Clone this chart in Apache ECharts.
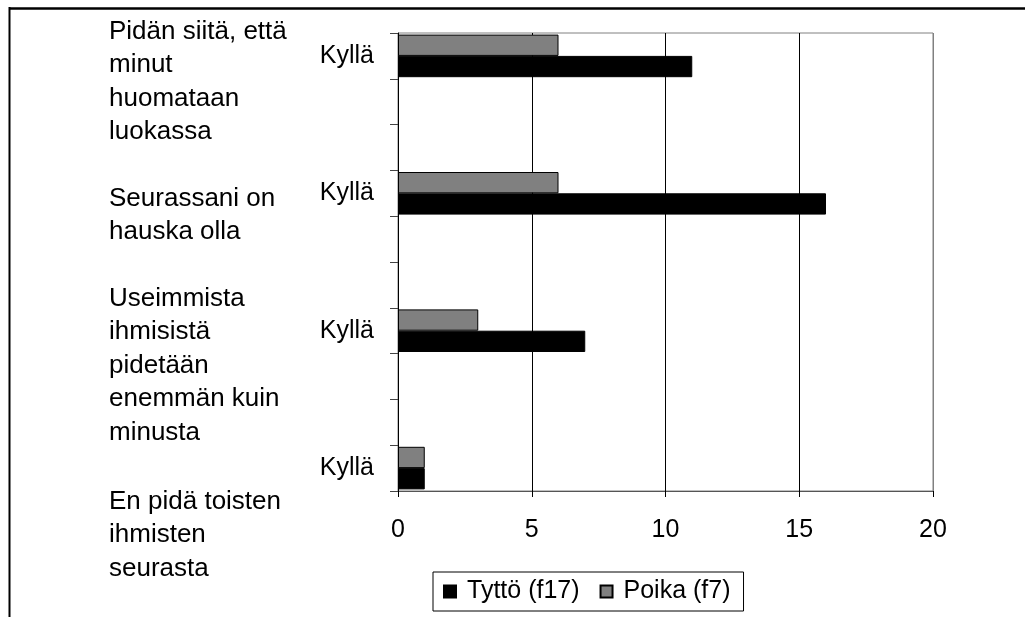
<!DOCTYPE html>
<html>
<head>
<meta charset="utf-8">
<script src="https://cdn.jsdelivr.net/npm/echarts@6/dist/echarts.min.js"></script>
<style>
html,body{margin:0;padding:0;background:#fff;}
#chart{width:1025px;height:617px;}
</style>
</head>
<body>
<div id="chart"></div>
<script>
// ---- data ----
const groupLabels = [
  'Pidän siitä, että\nminut\nhuomataan\nluokassa',
  'Seurassani on\nhauska olla',
  'Useimmista\nihmisistä\npidetään\nenemmän kuin\nminusta',
  'En pidä toisten\nihmisten\nseurasta'
];
const answerLabel = 'Kyllä';
const seriesNames = ['Tyttö (f17)', 'Poika (f7)'];
const tytto = [11, 16, 7, 1];
const poika = [6, 6, 3, 1];
const xTicks = [0, 5, 10, 15, 20];

// rows on the category axis: one answer row per group followed by two blank rows
const rowsPerGroup = 3;
const rowLabels = [];
const tyttoRows = [];
const poikaRows = [];
groupLabels.forEach(function (g, i) {
  rowLabels.push(answerLabel);
  tyttoRows.push(tytto[i]);
  poikaRows.push(poika[i]);
  if (i < groupLabels.length - 1) {
    for (let k = 1; k < rowsPerGroup; k++) {
      rowLabels.push(' '.repeat(k + i * rowsPerGroup));
      tyttoRows.push(null);
      poikaRows.push(null);
    }
  }
});

const FONT = "'Liberation Sans', Arial, sans-serif";
const FS = 25;
const groupTops = [15, 182, 282, 485];

const chart = echarts.init(document.getElementById('chart'), null, {renderer: 'canvas'});
chart.setOption({
  animation: false,
  backgroundColor: '#fff',
  textStyle: {fontFamily: FONT, color: '#000'},
  grid: {
    left: 398, right: 92, top: 33, bottom: 126,
    show: true, borderColor: '#808080', borderWidth: 1, backgroundColor: 'transparent',
    containLabel: false
  },
  legend: {
    data: seriesNames,
    left: 433, top: 572,
    orient: 'horizontal',
    padding: [7, 13, 7, 10],
    itemWidth: 12, itemHeight: 12, itemGap: 20,
    borderColor: '#000', borderWidth: 1,
    backgroundColor: '#fff',
    icon: 'rect',
    textStyle: {fontFamily: FONT, fontSize: FS, color: '#000', padding: [0, 0, 0, 6]}
  },
  xAxis: {
    type: 'value', min: 0, max: 20, interval: 5,
    axisLine: {show: true, lineStyle: {color: '#555', width: 1}},
    axisTick: {show: true, length: 6, lineStyle: {color: '#000'}},
    splitLine: {show: true, lineStyle: {color: ['#000', '#000', '#000', '#000', '#808080'], width: 1}},
    axisLabel: {fontFamily: FONT, fontSize: FS, color: '#000', margin: 27,
      formatter: function (v) { return xTicks.indexOf(v) >= 0 ? String(v) : ''; }}
  },
  yAxis: {
    type: 'category', inverse: true, data: rowLabels,
    axisLine: {show: true, lineStyle: {color: '#000', width: 1}},
    axisTick: {show: true, length: 8, interval: 0, lineStyle: {color: '#444'}},
    splitLine: {show: false},
    axisLabel: {interval: 0, fontFamily: FONT, fontSize: FS, color: '#000', margin: 24}
  },
  series: [
    {
      name: seriesNames[1], type: 'bar', data: poikaRows,
      barGap: '0%', barCategoryGap: '7%',
      itemStyle: {color: '#808080', borderColor: '#000', borderWidth: 1}
    },
    {
      name: seriesNames[0], type: 'bar', data: tyttoRows,
      barGap: '0%', barCategoryGap: '7%',
      itemStyle: {color: '#000', borderColor: '#000', borderWidth: 1}
    }
  ],
  graphic: [
    {type: 'line', shape: {x1: 9, y1: 8.5, x2: 1025, y2: 8.5}, style: {stroke: '#000', lineWidth: 2.5}, silent: true},
    {type: 'line', shape: {x1: 9.5, y1: 7, x2: 9.5, y2: 617}, style: {stroke: '#000', lineWidth: 2}, silent: true}
  ].concat(groupLabels.map(function (t, i) {
    return {
      type: 'text', left: 109, top: groupTops[i], silent: true,
      style: {text: t, fontFamily: FONT, fontSize: 26, lineHeight: 33.5, fill: '#000', align: 'left', verticalAlign: 'top'}
    };
  }))
});
</script>
</body>
</html>
